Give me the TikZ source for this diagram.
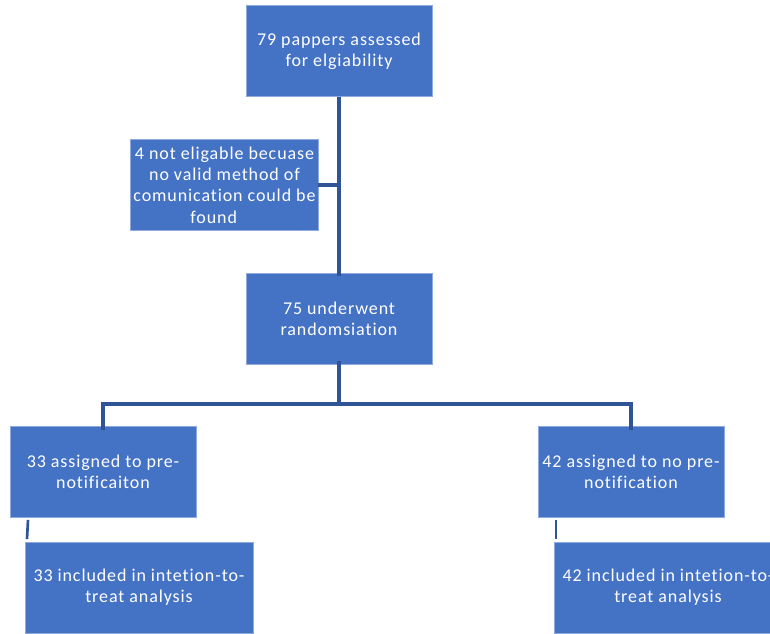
\documentclass[tikz,border=0pt]{standalone}
\usepackage{fontspec}
\setmainfont[Ligatures={NoCommon}, LetterSpace=5]{Carlito}
\definecolor{boxblue}{RGB}{68, 114, 196}
\definecolor{edgeblue}{RGB}{143, 170, 220}
\definecolor{lineblue}{RGB}{47, 85, 151}
\usepackage{tikz}
\usetikzlibrary{positioning, calc}
\tikzset{
    stage/.style={rectangle, minimum width=139.5pt, minimum height=68.5pt, inner sep=2pt, outer sep=0pt, align=center, draw=edgeblue, line width=0.4pt, fill=boxblue, text=white, font=\fontsize{13.5}{16}\selectfont},
    wide/.style={stage, minimum width=171pt},
    link/.style={lineblue, line width=2.6pt}
}
\begin{document}
\begin{tikzpicture}[x=0.75pt, y=-0.75pt]
        \useasboundingbox (0,0) rectangle (770,634);
        \clip (0,0) rectangle (770,634);

        % Screening
        \node[stage] (assessed) at (339, 51) {79 pappers assessed\\for elgiability};

        \node[stage] (excluded) at (224.5, 185) {4 not eligable becuase\\no valid method of\\comunication could be\\found\hspace*{1.2em}};

        \node[stage] (randomised) at (339, 319) {75 underwent\\randomsiation};

        % Two arms
        \node[stage] (prenote) at (103, 471.5) {33 assigned to pre-\\notificaiton};

        \node[stage] (noprenote) at (631, 471.5) {42 assigned to no pre-\\notification};

        % Analysis
        \node[wide] (ittleft) at (139, 587.5) {33 included in intetion-to-\\treat analysis};

        \node[wide] (ittright) at (668, 587.5) {42 included in intetion-to-\\treat analysis};

        % Connectors
        \draw[link] (assessed.south) -- ([yshift=-2pt]randomised.north);
        \draw[link] (excluded.east) -- (excluded.east -| assessed.south);

        \coordinate (split) at (339, 404);
        \draw[link] ([yshift=3pt]randomised.south) -- (split);
        \draw[link] ([yshift=-3pt]prenote.north) |- (split) -| ([yshift=-3pt]noprenote.north);

        \draw[link, line width=2pt] ([xshift=13.5pt, yshift=-2pt]prenote.south west) -- ([xshift=1.5pt, yshift=2pt]ittleft.north west);
        \draw[link, line width=2pt] ([xshift=13.5pt, yshift=-2pt]noprenote.south west) -- ([xshift=1.5pt, yshift=2pt]ittright.north west);
    \end{tikzpicture}
\end{document}
